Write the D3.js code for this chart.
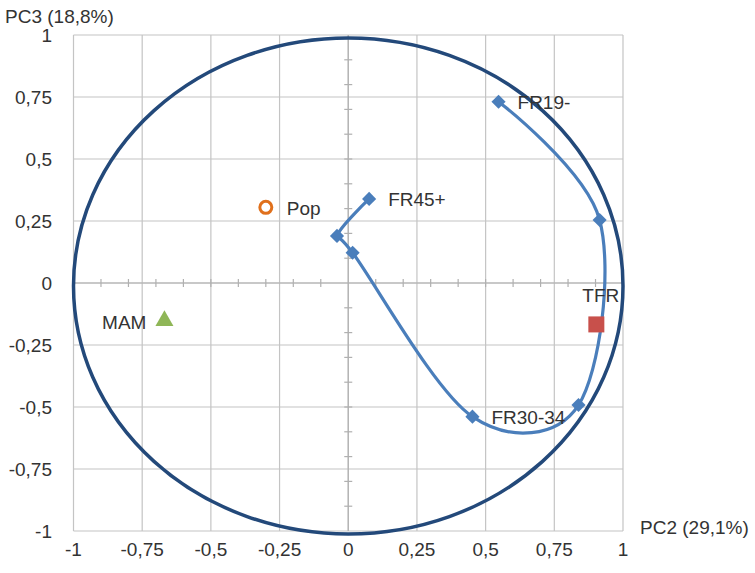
<!DOCTYPE html>
<html>
<head>
<meta charset="utf-8">
<script src="https://cdn.jsdelivr.net/npm/d3@7/dist/d3.min.js"></script>
<style>
  html, body { margin: 0; padding: 0; background: #fff; }
  svg { display: block; }
  text { font-family: "Liberation Sans", Arial, sans-serif; fill: #333; }
</style>
</head>
<body>
<svg id="chart" width="755" height="573"></svg>
<script>
// ---- data ----
const tickValues = [-1, -0.75, -0.5, -0.25, 0, 0.25, 0.5, 0.75, 1];
const tickLabels = ["-1", "-0,75", "-0,5", "-0,25", "0", "0,25", "0,5", "0,75", "1"];
const minorTicks = [-0.9, -0.8, -0.7, -0.6, -0.5, -0.4, -0.3, -0.2, -0.1, 0.1, 0.2, 0.3, 0.4, 0.5, 0.6, 0.7, 0.8, 0.9];
const xTitle = "PC2 (29,1%)";
const yTitle = "PC3 (18,8%)";

// fertility-rate age curve (PC2, PC3)
const curveNames = ["FR19-", "FR20-24", "FR25-29", "FR30-34", "FR35-39", "FR40-44", "FR45+"];
const curveX = [0.547, 0.915, 0.838, 0.452, 0.016, -0.041, 0.076];
const curveY = [0.731, 0.254, -0.492, -0.539, 0.122, 0.190, 0.339];
const curveLabelShown = [true, false, false, true, false, false, true];

// other variables
const popPoint = { name: "Pop", x: -0.300, y: 0.305 };
const mamPoint = { name: "MAM", x: -0.669, y: -0.152 };
const tfrPoint = { name: "TFR", x: 0.903, y: -0.167 };

// correlation circle
const circleCenter = [0, -0.012];
const circleRadius = 1;

// ---- drawing ----
const svg = d3.select("#chart");
const x = d3.scaleLinear().domain([-1, 1]).range([73.5, 623]);
const y = d3.scaleLinear().domain([-1, 1]).range([531, 35]);
const FS = 19;

const grid = svg.append("g");
tickValues.forEach(v => {
  grid.append("line").attr("x1", x(v)).attr("x2", x(v)).attr("y1", y(1)).attr("y2", y(-1))
    .attr("stroke", "#c4c4c4").attr("stroke-width", 1.2);
  grid.append("line").attr("y1", y(v)).attr("y2", y(v)).attr("x1", x(-1)).attr("x2", x(1))
    .attr("stroke", "#c4c4c4").attr("stroke-width", 1.2);
});
// zero axes with minor ticks
grid.append("line").attr("x1", x(-1)).attr("x2", x(1)).attr("y1", y(0)).attr("y2", y(0))
  .attr("stroke", "#b0b0b0").attr("stroke-width", 1.2);
grid.append("line").attr("x1", x(0)).attr("x2", x(0)).attr("y1", y(1)).attr("y2", y(-1))
  .attr("stroke", "#b0b0b0").attr("stroke-width", 1.2);
minorTicks.forEach(v => {
  grid.append("line").attr("x1", x(v)).attr("x2", x(v)).attr("y1", y(0) - 4).attr("y2", y(0) + 4)
    .attr("stroke", "#b0b0b0").attr("stroke-width", 1.2);
  grid.append("line").attr("x1", x(0) - 4).attr("x2", x(0) + 4).attr("y1", y(v)).attr("y2", y(v))
    .attr("stroke", "#b0b0b0").attr("stroke-width", 1.2);
});

// tick labels
tickValues.forEach((v, i) => {
  svg.append("text").attr("x", x(v)).attr("y", 556).attr("text-anchor", "middle")
    .attr("font-size", FS).text(tickLabels[i]);
  svg.append("text").attr("x", 52).attr("y", y(v) + 7).attr("text-anchor", "end")
    .attr("font-size", FS).text(tickLabels[i]);
});
svg.append("text").attr("x", 5).attr("y", 23).attr("font-size", FS).text(yTitle);
svg.append("text").attr("x", 640).attr("y", 534).attr("font-size", FS).text(xTitle);

// circle
svg.append("ellipse")
  .attr("cx", x(circleCenter[0])).attr("cy", y(circleCenter[1]))
  .attr("rx", x(circleRadius) - x(0)).attr("ry", y(0) - y(circleRadius))
  .attr("fill", "none").attr("stroke", "#23497a").attr("stroke-width", 3.5);

// curve
const pts = curveX.map((v, i) => [x(v), y(curveY[i])]);
svg.append("path").attr("d", d3.line().curve(d3.curveCatmullRom.alpha(0))(pts))
  .attr("fill", "none").attr("stroke", "#4a7ebb").attr("stroke-width", 3.2);
const diamond = d3.symbol().type(d3.symbolSquare).size(100);
pts.forEach(p => {
  svg.append("path").attr("d", diamond()).attr("transform", `translate(${p[0]},${p[1]}) rotate(45)`)
    .attr("fill", "#4a7ebb");
});
curveNames.forEach((n, i) => {
  if (!curveLabelShown[i]) return;
  svg.append("text").attr("x", pts[i][0] + 19).attr("y", pts[i][1] + 7)
    .attr("font-size", FS).text(n);
});

// Pop
svg.append("circle").attr("cx", x(popPoint.x)).attr("cy", y(popPoint.y)).attr("r", 6)
  .attr("fill", "none").attr("stroke", "#e0701c").attr("stroke-width", 3);
svg.append("text").attr("x", x(popPoint.x) + 21).attr("y", y(popPoint.y) + 8)
  .attr("font-size", FS).text(popPoint.name);

// MAM
svg.append("path").attr("d", d3.symbol().type(d3.symbolTriangle).size(140)())
  .attr("transform", `translate(${x(mamPoint.x)},${y(mamPoint.y)})`)
  .attr("fill", "#8fb657");
svg.append("text").attr("x", x(mamPoint.x) - 18).attr("y", y(mamPoint.y) + 8)
  .attr("text-anchor", "end").attr("font-size", FS).text(mamPoint.name);

// TFR
svg.append("rect").attr("x", x(tfrPoint.x) - 8).attr("y", y(tfrPoint.y) - 8)
  .attr("width", 16).attr("height", 16).attr("fill", "#c8504b");
svg.append("text").attr("x", x(tfrPoint.x) - 14).attr("y", y(tfrPoint.y) - 22)
  .attr("font-size", FS).text(tfrPoint.name);
</script>
</body>
</html>
